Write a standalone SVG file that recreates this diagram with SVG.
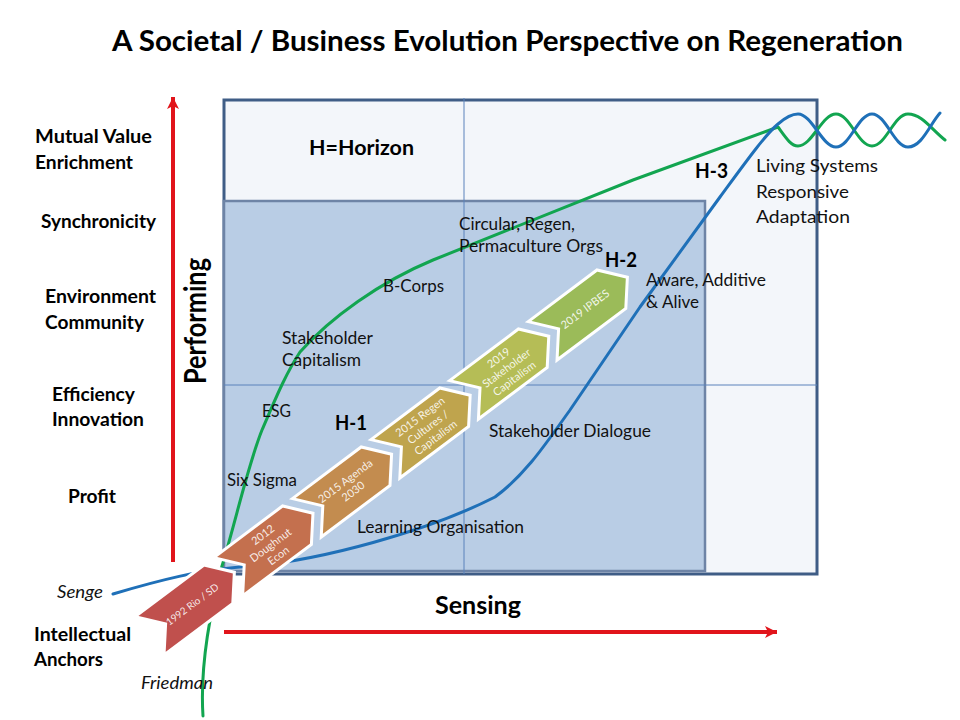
<svg xmlns="http://www.w3.org/2000/svg" width="960" height="720" viewBox="0 0 960 720">
<defs>
<marker id="redHead" markerUnits="userSpaceOnUse" markerWidth="14" markerHeight="12" refX="12" refY="6" orient="auto">
<path d="M0,0 L12,6 L0,12 L3,6 Z" fill="#e1141b"/>
</marker>
<path id="chev" d="M -53,-24 L 33,-24 L 53,0 L 33,24 L -53,24 L -33,0 Z"/>
</defs>
<style>
.t{font-family:Lato,"Liberation Sans",sans-serif;font-size:17.5px;fill:#111}
.b{font-family:Lato,"Liberation Sans",sans-serif;font-weight:700;font-size:19px;fill:#000}
.h{font-size:20px}
.big{font-size:25px}
.ttl{font-size:29px}
.i{font-style:italic}
.ct{font-family:Lato,"Liberation Sans",sans-serif;font-size:11px;fill:#fff;fill-opacity:.88;text-anchor:middle}
.chev{stroke:#fff;stroke-width:3;stroke-linejoin:miter}
.axis{stroke:#e1141b;stroke-width:4;fill:none}
.curve{fill:none;stroke-width:3;stroke-linecap:round;stroke-linejoin:round}
.g{stroke:#12a550}
.bl{stroke:#1f70b8}
.div{stroke:#5a82bb;stroke-width:1}
</style>
<rect x="0" y="0" width="960" height="720" fill="#fff"/>

<g id="frame">
<rect id="outer-box" x="224" y="100" width="593" height="474" fill="#f3f6fa" stroke="#3f5d86" stroke-width="3"/>
<rect id="inner-box" x="224" y="201" width="481" height="370" fill="#b9cde5" stroke="#6e84a6" stroke-width="2.5"/>
<line class="div" x1="464" y1="98" x2="464" y2="574"/>
<line class="div" x1="224" y1="385" x2="817" y2="385"/>
</g>

<g id="connectors">
<path id="green-curve" class="curve g" d="M 203,716 C 200,670 208,620 222,566 C 236,520 248,465 262,430 C 275,400 285,375 300,352 C 330,318 380,282 433,260 L 633,180 L 778,127 C 786,138 791,146 798,146 C 812,146 822,114 836,114 C 850,114 858,146 872,146 C 886,146 894,114 908,114 C 922,114 932,130 945,140"/>
<path id="blue-curve" class="curve bl" d="M 113,594 C 160,580 200,570 240,567 C 320,562 430,530 495,497 C 525,475 545,445 570,410 L 640,307 L 720,197 C 745,163 765,135 778,124 C 786,117 792,114 798,114 C 812,114 822,147 836,147 C 850,147 858,114 872,114 C 886,114 894,147 908,147 C 922,147 930,124 940,113"/>
<line id="axis-performing" class="axis" x1="173" y1="562" x2="173" y2="97" marker-end="url(#redHead)"/>
<line id="axis-sensing" class="axis" x1="224" y1="632" x2="777" y2="632" marker-end="url(#redHead)"/>
</g>

<g id="chevron-1992" transform="translate(192,604) rotate(-36.9)">
<use href="#chev" class="chev" fill="#c0504d"/>
<text class="ct" y="4" style="font-size:10px">1992 Rio / SD</text>
</g>
<g id="chevron-2012" transform="translate(270.6,545) rotate(-36.9)">
<use href="#chev" class="chev" fill="#c4704e"/>
<text class="ct" y="-9">2012</text>
<text class="ct" y="4">Doughnut</text>
<text class="ct" y="17">Econ</text>
</g>
<g id="chevron-2015a" transform="translate(349.2,486) rotate(-36.9)">
<use href="#chev" class="chev" fill="#c38c4f"/>
<text class="ct" y="-2.5">2015 Agenda</text>
<text class="ct" y="10.5">2030</text>
</g>
<g id="chevron-2015b" transform="translate(427.8,427) rotate(-36.9)">
<use href="#chev" class="chev" fill="#bfa44d"/>
<text class="ct" y="-9">2015 Regen</text>
<text class="ct" y="4">Cultures /</text>
<text class="ct" y="17">Capitalism</text>
</g>
<g id="chevron-2019a" transform="translate(506.4,368) rotate(-36.9)">
<use href="#chev" class="chev" fill="#b5bd56"/>
<text class="ct" y="-9">2019</text>
<text class="ct" y="4">Stakeholder</text>
<text class="ct" y="17">Capitalism</text>
</g>
<g id="chevron-2019b" transform="translate(585,309) rotate(-36.9)">
<use href="#chev" class="chev" fill="#9bbb59"/>
<text class="ct" y="4">2019 IPBES</text>
</g>

<g id="title">
<text class="b ttl" x="112" y="51" textLength="791" lengthAdjust="spacingAndGlyphs">A Societal / Business Evolution Perspective on Regeneration</text>
</g>

<g id="axis-labels">
<text class="b big" transform="translate(206,384) scale(1.2,1) rotate(-90)" textLength="126" lengthAdjust="spacingAndGlyphs">Performing</text>
<text class="b big" x="435" y="614" textLength="86" lengthAdjust="spacingAndGlyphs">Sensing</text>
</g>

<g id="level-labels">
<text class="b" x="35" y="143" textLength="117" lengthAdjust="spacingAndGlyphs">Mutual Value</text>
<text class="b" x="35" y="169" textLength="98" lengthAdjust="spacingAndGlyphs">Enrichment</text>
<text class="b" x="41" y="228" textLength="115" lengthAdjust="spacingAndGlyphs">Synchronicity</text>
<text class="b" x="45" y="303" textLength="111" lengthAdjust="spacingAndGlyphs">Environment</text>
<text class="b" x="45" y="329" textLength="99" lengthAdjust="spacingAndGlyphs">Community</text>
<text class="b" x="52" y="401" textLength="83" lengthAdjust="spacingAndGlyphs">Efficiency</text>
<text class="b" x="52" y="426" textLength="92" lengthAdjust="spacingAndGlyphs">Innovation</text>
<text class="b" x="68" y="503" textLength="48" lengthAdjust="spacingAndGlyphs">Profit</text>
<text class="b" x="34" y="641" textLength="97" lengthAdjust="spacingAndGlyphs">Intellectual</text>
<text class="b" x="34" y="666" textLength="69" lengthAdjust="spacingAndGlyphs">Anchors</text>
</g>

<g id="horizon-labels">
<text class="b h" x="309" y="155" textLength="105" lengthAdjust="spacingAndGlyphs">H=Horizon</text>
<text class="b h" x="695" y="178" textLength="33" lengthAdjust="spacingAndGlyphs">H-3</text>
<text class="b h" x="605" y="267" textLength="32" lengthAdjust="spacingAndGlyphs">H-2</text>
<text class="b h" x="335" y="430" textLength="32" lengthAdjust="spacingAndGlyphs">H-1</text>
</g>

<g id="stage-labels">
<text class="t" x="756" y="172" textLength="122" lengthAdjust="spacingAndGlyphs">Living Systems</text>
<text class="t" x="756" y="198" textLength="93" lengthAdjust="spacingAndGlyphs">Responsive</text>
<text class="t" x="756" y="223" textLength="94" lengthAdjust="spacingAndGlyphs">Adaptation</text>
<text class="t" x="459" y="230" textLength="116" lengthAdjust="spacingAndGlyphs">Circular, Regen,</text>
<text class="t" x="459" y="252" textLength="144" lengthAdjust="spacingAndGlyphs">Permaculture Orgs</text>
<text class="t" x="646" y="286" textLength="120" lengthAdjust="spacingAndGlyphs">Aware, Additive</text>
<text class="t" x="646" y="308" textLength="53" lengthAdjust="spacingAndGlyphs">&amp; Alive</text>
<text class="t" x="383" y="292" textLength="61" lengthAdjust="spacingAndGlyphs">B-Corps</text>
<text class="t" x="282" y="344" textLength="91" lengthAdjust="spacingAndGlyphs">Stakeholder</text>
<text class="t" x="282" y="366" textLength="79" lengthAdjust="spacingAndGlyphs">Capitalism</text>
<text class="t" x="262" y="417" textLength="29" lengthAdjust="spacingAndGlyphs">ESG</text>
<text class="t" x="489" y="437" textLength="162" lengthAdjust="spacingAndGlyphs">Stakeholder Dialogue</text>
<text class="t" x="227" y="486" textLength="70" lengthAdjust="spacingAndGlyphs">Six Sigma</text>
<text class="t" x="357" y="533" textLength="167" lengthAdjust="spacingAndGlyphs">Learning Organisation</text>
<text class="t i" x="57" y="598" textLength="46" lengthAdjust="spacingAndGlyphs">Senge</text>
<text class="t i" x="141" y="689" textLength="72" lengthAdjust="spacingAndGlyphs">Friedman</text>
</g>
</svg>
